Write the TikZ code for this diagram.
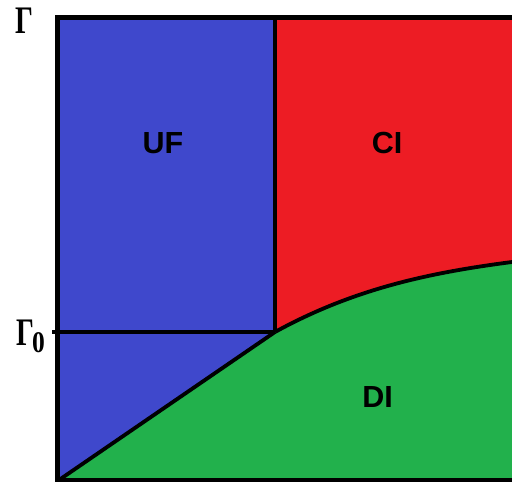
\documentclass[tikz,border=0pt]{standalone}
\usepackage{fontspec}
\setmainfont{Liberation Serif}
\newfontfamily\labfont{Liberation Sans}
\definecolor{pblue}{RGB}{63,72,204}
\definecolor{pred}{RGB}{237,28,36}
\definecolor{pgreen}{RGB}{34,177,76}
\begin{document}
\begin{tikzpicture}[x=1pt,y=-1pt,
  region/.style={draw=none},
  frameline/.style={line width=5pt},
  inner/.style={line width=3.8pt},
  phase/.style={font=\labfont\bfseries\fontsize{30.5}{30}\selectfont, inner sep=0pt},
  axislab/.style={font=\bfseries\fontsize{39}{39}\selectfont, inner sep=0pt}]
\useasboundingbox (0,0) rectangle (512,482);
% regions
\fill[pblue, region] (57,17) -- (275,17) -- (275,332) -- (58,480) -- cycle;
\fill[pred, region] (275,17) -- (512,17) -- (512,262) .. controls (432,272.4) and (355,288) .. (275,332) -- cycle;
\fill[pgreen, region] (58,480) -- (275,332) .. controls (355,288) and (432,272.4) .. (512,262) -- (512,482) -- (58,482) -- cycle;
% lines
\coordinate (tl) at (57.5,15);
\coordinate (tr) at (512,17.5);
\coordinate (bl) at (57.5,482);
\coordinate (br) at (512,480);
\coordinate (vt) at (275,17);
\coordinate (j) at (275,332);
\coordinate (tick) at (52,332);
\coordinate (o) at (59,480);
\coordinate (e) at (512,262);
\draw[frameline] (55,17.5) -- (tr);
\draw[frameline] (tl) -- (bl);
\draw[line width=5pt] (55,480) -- (br);
\draw[inner] (vt) -- (j);
\draw[inner] (tick) -- (j);
\draw[inner] (o) -- (j);
\draw[inner] (j) .. controls (355,288) and (432,272.4) .. (e);
% labels
\node[phase] (uf) at (163,143) {UF};
\node[phase] (ci) at (387,143) {CI};
\node[phase] (di) at (377.5,397) {DI};
\node[axislab] (g) at (24,21) {\scalebox{0.72}[1]{Γ}};
\node[axislab, anchor=base west] (g0) at (16,345) {\scalebox{0.72}[1]{Γ}\kern-2pt\raisebox{-7pt}{\fontsize{30}{30}\selectfont\scalebox{0.85}[1]{0}}};
\end{tikzpicture}
\end{document}
